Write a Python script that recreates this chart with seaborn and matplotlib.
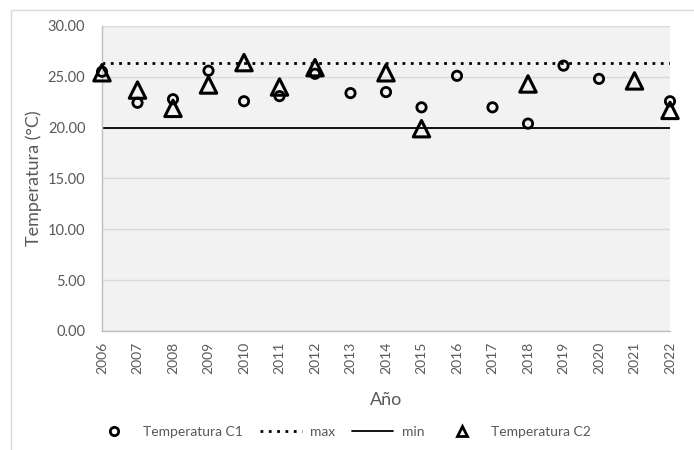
import matplotlib
matplotlib.use("Agg")
import matplotlib.pyplot as plt
import seaborn as sns
import pandas as pd
import numpy as np
from matplotlib.patches import Rectangle
from matplotlib.lines import Line2D

years = list(range(2006, 2023))
temp_c1 = [25.5, 22.45, 22.8, 25.6, 22.6, 23.1, 25.3, 23.4, 23.5, 22.0, 25.1, 22.0, 20.4, 26.1, 24.8, np.nan, 22.6]
temp_c2 = [25.4, 23.7, 21.9, 24.2, 26.4, 24.0, 25.9, np.nan, 25.4, 19.9, np.nan, np.nan, 24.3, np.nan, np.nan, 24.6, 21.7]
t_max = 26.4
t_min = 20.0
y_ticks = [0, 5, 10, 15, 20, 25, 30]

sns.set_theme(style="white")
plt.rcParams['font.family'] = ['Lato', 'DejaVu Sans']
txt = "#595959"

df = pd.DataFrame({"Año": years, "C1": temp_c1, "C2": temp_c2})

fig = plt.figure(figsize=(6.94, 4.5), dpi=100)
ax = fig.add_axes([102 / 694, 1 - 331 / 450, (670 - 102) / 694, (331 - 26) / 450])
ax.set_facecolor("#f2f2f2")

for yv in y_ticks:
    ax.axhline(yv, color="#d9d9d9", lw=1, zorder=0)

ax.axhline(t_max, color="black", lw=2, ls=(0, (1, 2)), zorder=2)
ax.axhline(t_min, color="black", lw=1.3, zorder=2)

sns.scatterplot(data=df, x="Año", y="C1", ax=ax, marker="o", s=45,
                facecolor="none", edgecolor="black", linewidth=2, clip_on=False, zorder=3)
sns.scatterplot(data=df, x="Año", y="C2", ax=ax, marker="^", s=140,
                facecolor="none", edgecolor="black", linewidth=2.2, clip_on=False, zorder=3)

ax.set_xlim(2006, 2022)
ax.set_ylim(0, 30)
ax.set_xticks(years)
ax.set_xticklabels([str(y) for y in years], rotation=90, color=txt, fontsize=10)
ax.set_yticks(y_ticks)
ax.set_yticklabels([f"{v:.2f}" for v in y_ticks], color=txt, fontsize=10.5)
ax.tick_params(axis="x", length=0, pad=8)
ax.tick_params(axis="y", length=0, pad=12)
for s in ["top", "right"]:
    ax.spines[s].set_visible(False)
ax.spines["left"].set_color("#bfbfbf")
ax.spines["bottom"].set_color("#bfbfbf")
ax.spines["left"].set_linewidth(1)
ax.spines["bottom"].set_linewidth(1)
ax.set_xlabel("Año", color=txt, fontsize=13)
ax.set_ylabel("Temperatura (°C)", color=txt, fontsize=13)
ax.xaxis.set_label_coords(0.5, -0.2)
ax.yaxis.set_label_coords(-0.106, 0.5)

handles = [
    Line2D([], [], ls="none", marker="o", ms=6, mfc="none", mec="black", mew=2),
    Line2D([], [], color="black", lw=2, ls=(0, (1, 2))),
    Line2D([], [], color="black", lw=1.3),
    Line2D([], [], ls="none", marker="^", ms=7, mfc="none", mec="black", mew=2),
]
labels = ["Temperatura C1", "max", "min", "Temperatura C2"]
leg = fig.legend(handles, labels, loc="center", bbox_to_anchor=(0.493, 1 - 432 / 450),
                 ncol=4, frameon=False, fontsize=10, handlelength=3, columnspacing=1.2,
                 handletextpad=0.6)
for t in leg.get_texts():
    t.set_color(txt)

fig.patches.append(Rectangle((11 / 694, -0.1), 1.2, 1 - 10 / 450 + 0.1, transform=fig.transFigure,
                             fill=False, edgecolor="#d9d9d9", lw=1))

fig.savefig("out.png", dpi=100)
